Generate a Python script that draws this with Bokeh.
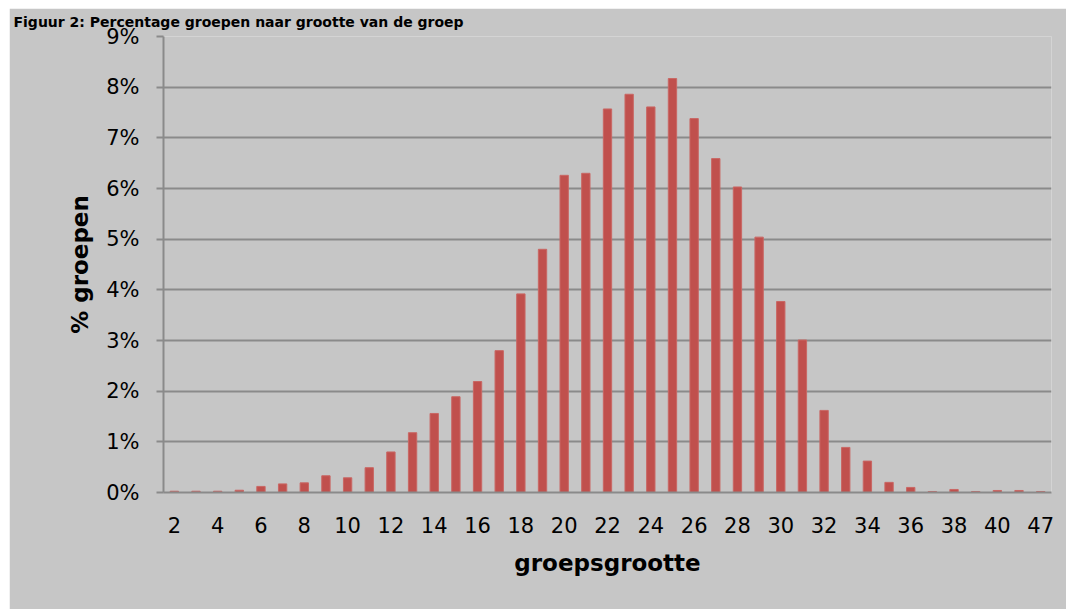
from bokeh.plotting import figure
from bokeh.models import Range1d, FixedTicker, PrintfTickFormatter, ColumnDataSource
from bokeh.embed import file_html
from bokeh.resources import INLINE

title_text = "Figuur 2: Percentage groepen naar grootte van de groep"
x_label = "groepsgrootte"
y_label = "% groepen"

categories = ["2", "3", "4", "5", "6", "7", "8", "9", "10", "11",
              "12", "13", "14", "15", "16", "17", "18", "19", "20", "21",
              "22", "23", "24", "25", "26", "27", "28", "29", "30", "31",
              "32", "33", "34", "35", "36", "37", "38", "39", "40", "41", "47"]
values = [0.025, 0.025, 0.025, 0.045, 0.12, 0.17, 0.19, 0.33, 0.29, 0.49,
          0.80, 1.18, 1.56, 1.89, 2.19, 2.80, 3.92, 4.80, 6.26, 6.30,
          7.57, 7.86, 7.61, 8.17, 7.38, 6.59, 6.03, 5.04, 3.77, 3.01,
          1.62, 0.89, 0.62, 0.20, 0.10, 0.02, 0.06, 0.02, 0.04, 0.04, 0.02]
y_ticks = [0, 1, 2, 3, 4, 5, 6, 7, 8, 9]

BG = "#c6c6c6"
GRID = "#8a8a8a"
FONT = "DejaVu Sans"

xs = list(range(len(categories)))
src = ColumnDataSource(dict(x=xs, top=values, cat=categories))

p = figure(width=1057, height=601,
           x_range=Range1d(-0.5, len(categories) - 0.5),
           y_range=Range1d(y_ticks[0], y_ticks[-1]),
           output_backend="svg", toolbar_location=None,
           min_border_left=154, min_border_right=15,
           min_border_top=27, min_border_bottom=117)
p.margin = (8, 0, 0, 9)
p.background_fill_color = BG
p.border_fill_color = BG
p.outline_line_color = None

p.title.text = title_text
p.title.text_font = FONT
p.title.text_font_size = "14px"
p.title.text_font_style = "bold"
p.title.text_color = "#000000"
p.title.align = "left"
p.title.vertical_align = "top"
p.title.offset = -150
p.title.standoff = 10

p.vbar(x="x", top="top", bottom=0, width=0.385, source=src,
       fill_color="#c0504d", line_color="#c96764", line_width=1)

# y axis
p.yaxis.ticker = FixedTicker(ticks=y_ticks)
p.yaxis.formatter = PrintfTickFormatter(format="%d%%")
p.yaxis.axis_line_color = GRID
p.yaxis.axis_line_width = 2
p.yaxis.major_tick_line_color = GRID
p.yaxis.major_tick_line_width = 2
p.yaxis.major_tick_out = 7
p.yaxis.major_tick_in = 0
p.yaxis.minor_tick_line_color = None
p.yaxis.major_label_standoff = 17
p.yaxis.axis_label = y_label
p.yaxis.axis_label_standoff = 10

# x axis
p.xaxis.ticker = FixedTicker(ticks=xs[::2])
p.xaxis.major_label_overrides = {i: categories[i] for i in xs}
p.xaxis.axis_line_color = GRID
p.xaxis.axis_line_width = 2
p.xaxis.major_tick_line_color = None
p.xaxis.major_tick_out = 0
p.xaxis.major_tick_in = 0
p.xaxis.minor_tick_line_color = None
p.xaxis.major_label_standoff = 24
p.xaxis.axis_label = x_label
p.xaxis.axis_label_standoff = 14

for ax in (p.xaxis, p.yaxis):
    ax.major_label_text_font = FONT
    ax.major_label_text_font_size = "21px"
    ax.major_label_text_color = "#000000"
    ax.axis_label_text_font = FONT
    ax.axis_label_text_font_size = "23px"
    ax.axis_label_text_font_style = "bold"
    ax.axis_label_text_color = "#000000"

p.xgrid.visible = False
p.ygrid.ticker = FixedTicker(ticks=y_ticks)
p.ygrid.grid_line_color = GRID
p.ygrid.grid_line_width = 2

open("out.html", "w").write(file_html(p, INLINE))
